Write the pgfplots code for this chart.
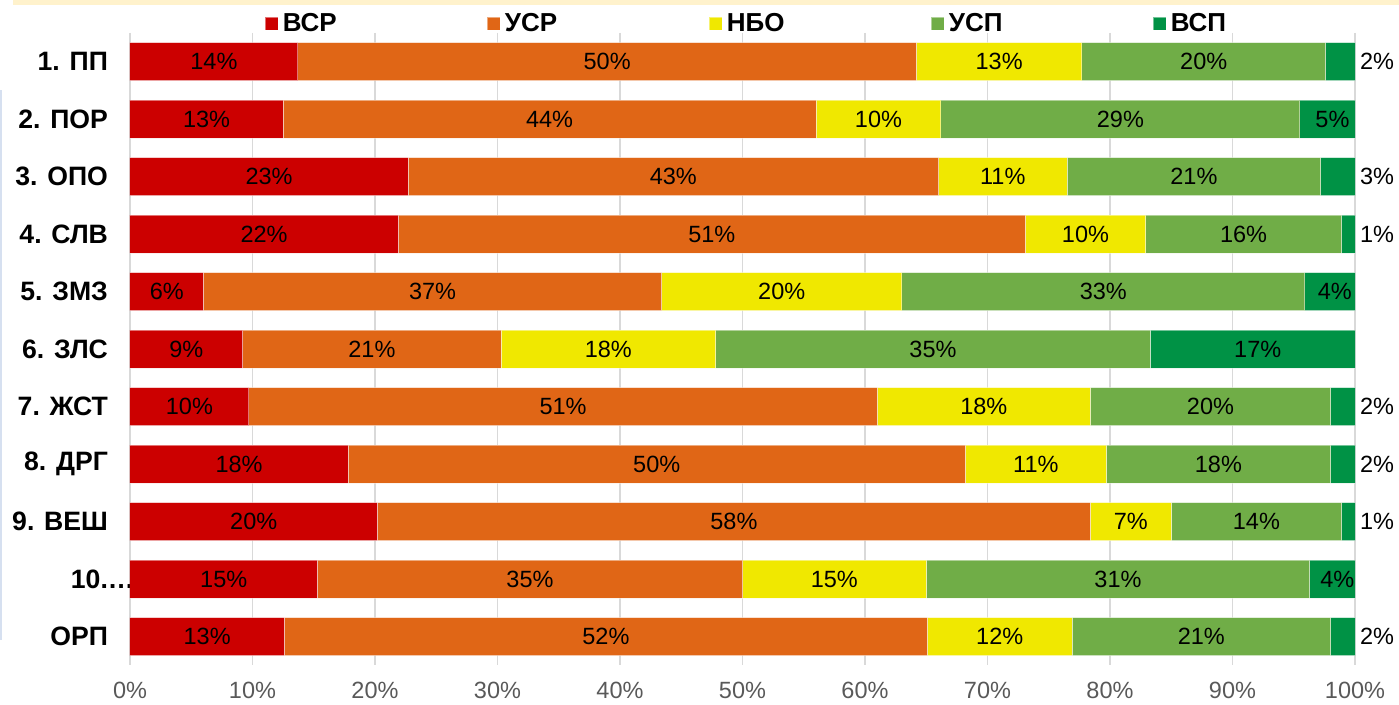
\documentclass[border=0pt]{standalone}
\usepackage{pgfplots}
\pgfplotsset{compat=1.18}
\usepackage{pgfplotstable}
\usepackage{fontspec}
\setmainfont{Liberation Sans}
\definecolor{cRed}{RGB}{204,0,0}
\definecolor{cOrange}{RGB}{224,102,22}
\definecolor{cYellow}{RGB}{240,232,0}
\definecolor{cLGreen}{RGB}{112,173,71}
\definecolor{cDGreen}{RGB}{0,146,69}
\definecolor{gridgray}{RGB}{217,217,217}
\definecolor{tickgray}{RGB}{89,89,89}
\definecolor{beige}{RGB}{255,242,204}
\definecolor{paleblue}{RGB}{214,224,240}
\newcommand\lblfont{\fontsize{11.75pt}{13pt}\selectfont}
\newcommand\catfont{\fontsize{13.3pt}{16pt}\selectfont\bfseries}
\newcommand\legfont{\fontsize{13pt}{15pt}\selectfont\bfseries}

% out: 1 = label of the last segment is set outside the bar
\pgfplotstableread{
y v1 v2 v3 v4 v5 out l1 l2 l3 l4 l5
0 13.7 50.5 13.5 19.9 2.4 1 14\% 50\% 13\% 20\% 2\%
1 12.5 43.5 10.2 29.3 4.5 0 13\% 44\% 10\% 29\% 5\%
2 22.7 43.3 10.5 20.7 2.8 1 23\% 43\% 11\% 21\% 3\%
3 21.9 51.2 9.8 16.0 1.1 1 22\% 51\% 10\% 16\% 1\%
4 6.0 37.4 19.6 32.9 4.1 0 6\% 37\% 20\% 33\% 4\%
5 9.2 21.1 17.5 35.5 16.7 0 9\% 21\% 18\% 35\% 17\%
6 9.7 51.3 17.4 19.6 2.0 1 10\% 51\% 18\% 20\% 2\%
7 17.8 50.4 11.5 18.3 2.0 1 18\% 50\% 11\% 18\% 2\%
8 20.2 58.2 6.6 13.9 1.1 1 20\% 58\% 7\% 14\% 1\%
9 15.3 34.7 15.0 31.3 3.7 0 15\% 35\% 15\% 31\% 4\%
10 12.6 52.5 11.8 21.1 2.0 1 13\% 52\% 12\% 21\% 2\%
}\data

\begin{document}
\begin{tikzpicture}
\begin{axis}[
  name=ax,
  xbar stacked,
  scale only axis,
  width=612.5pt, height=316.25pt,
  xmin=0, xmax=100, ymin=-0.5, ymax=10.5,
  y dir=reverse,
  bar width=19pt,
  axis line style={draw=none},
  major tick length=0pt,
  xtick={0,10,...,100},
  xticklabel={\pgfmathprintnumber{\tick}\%},
  /pgf/number format/assume math mode=true,
  xticklabel style={font=\lblfont, text=tickgray, yshift=-5pt},
  xmajorgrids,
  grid style={color=gridgray, line width=0.9pt},
  ytick={0,...,10},
  yticklabels={1. ПП, 2. ПОР, 3. ОПО, 4. СЛВ, 5. ЗМЗ, 6. ЗЛС, 7. ЖСТ, 8. ДРГ, 9. ВЕШ, 10.\rlap{…}, ОРП},
  yticklabel style={font=\catfont, text=black, xshift=-7.5pt},
  legend style={at={(0.5,1)}, anchor=center, xshift=2.5pt, yshift=4.5pt, draw=none, fill=none,
    legend columns=5, font=\legfont,
    /tikz/every even column/.append style={column sep=0pt}},
  legend image code/.code={\fill[#1] (0pt,-3.25pt) rectangle (6.5pt,3.25pt);},
  seg/.style={draw=white, draw opacity=0.45, line width=0.5pt, nodes near coords, point meta=explicit symbolic,
    nodes near coords style={anchor=center, font=\lblfont, text=black}},
]
\addplot[fill=cRed, seg] table[x=v1, y=y, meta=l1] {\data};
\addplot[fill=cOrange, seg] table[x=v2, y=y, meta=l2] {\data};
\addplot[fill=cYellow, seg] table[x=v3, y=y, meta=l3] {\data};
\addplot[fill=cLGreen, seg] table[x=v4, y=y, meta=l4] {\data};
\addplot[fill=cDGreen, seg,
  visualization depends on={\thisrow{v5}\as\rawv},
  visualization depends on={\thisrow{out}\as\outv},
  nodes near coords style={xshift={ifthenelse(\outv>0.5,11+3.0625*\rawv,2.5)*1pt}}]
  table[x=v5, y=y, meta=l5] {\data};
\legend{\makebox[100pt][l]{ВСР}, \makebox[100pt][l]{УСР}, \makebox[100pt][l]{НБО}, \makebox[100pt][l]{УСП}, ВСП}
\end{axis}
\fill[beige] ([xshift=-58.5pt,yshift=14pt]ax.north west) rectangle ([xshift=22pt,yshift=16.5pt]ax.north east);
\fill[paleblue] ([xshift=-65pt,yshift=-28.5pt]ax.north west) rectangle ([xshift=-64.2pt,yshift=-303.5pt]ax.north west);
\pgfresetboundingbox
\path[use as bounding box] ([xshift=-65pt,yshift=-19.5pt]ax.south west) rectangle ([xshift=22pt,yshift=16.5pt]ax.north east);
\end{tikzpicture}
\end{document}
